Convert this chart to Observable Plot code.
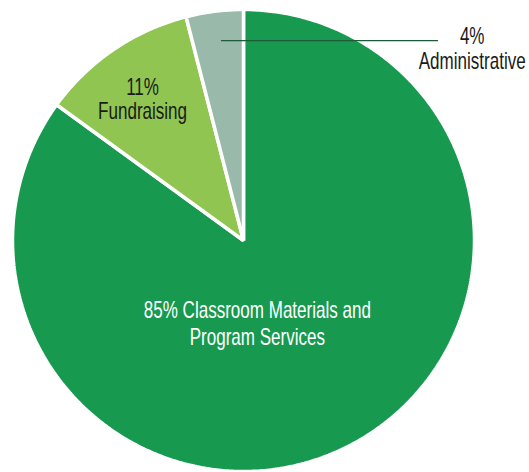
<!DOCTYPE html>
<html>
<head>
<meta charset="utf-8">
<script src="https://cdn.jsdelivr.net/npm/d3@7"></script>
<script src="https://cdn.jsdelivr.net/npm/@observablehq/plot@0.6"></script>
<style>
html,body{margin:0;padding:0;background:#fff;}
#chart svg{display:block;}
</style>
</head>
<body>
<div id="chart"></div>
<script>
const categories = ["Classroom Materials and Program Services", "Fundraising", "Administrative"];
const shares = [85, 11, 4];
const labelLines = [["85% Classroom Materials and", "Program Services"], ["11%", "Fundraising"], ["4%", "Administrative"]];
const colors = ["#17994f", "#8fc550", "#99b9aa"];

const W = 529, H = 472;
const cx = 243, cy = 240, R = 231;

const slices = d3.pie().sort(null).value(d => d.share)(
  categories.map((c, i) => ({category: c, share: shares[i], i}))
);

// polygon points (unit circle) for each slice
const poly = [];
slices.forEach(s => {
  const n = Math.max(8, Math.ceil((s.endAngle - s.startAngle) / 0.01));
  poly.push({i: s.data.i, x: 0, y: 0});
  for (let k = 0; k <= n; k++) {
    const a = s.startAngle + (s.endAngle - s.startAngle) * k / n;
    poly.push({i: s.data.i, x: Math.sin(a), y: Math.cos(a)});
  }
});

const xDom = [-cx / R, (W - cx) / R];
const yDom = [(cy - H) / R, cy / R];

function polar(s, r) {
  const a = (s.startAngle + s.endAngle) / 2;
  return [r * Math.sin(a), r * Math.cos(a)];
}
const mainLab = [{x: 0.06, y: -0.355, text: labelLines[0].join("\n"), fill: "#fff"}];
const sideLab = [
  {x: -0.437, y: 0.612, text: labelLines[1].join("\n"), fill: "#1a1a1a"},
  {x: 0.99, y: 0.83, text: labelLines[2].join("\n"), fill: "#1a1a1a"}
];
const adm = polar(slices[2], 0.6);
const leader = [{x: adm[0] - 0.02, y: 0.865}, {x: 0.84, y: 0.865}];

const chart = Plot.plot({
  width: W, height: H,
  margin: 0,
  x: {domain: xDom, axis: null},
  y: {domain: yDom, axis: null},
  style: {fontFamily: "'Liberation Sans', Arial, sans-serif"},
  marks: [
    Plot.line(poly, {x: "x", y: "y", z: "i", curve: "linear-closed",
      fill: d => colors[d.i], stroke: "#fff", strokeWidth: 3.5, strokeLinejoin: "miter"}),
    Plot.line(leader, {x: "x", y: "y", stroke: "#1d5a37", strokeWidth: 1.2}),
    Plot.text(mainLab, {x: "x", y: "y", text: "text", fill: d => d.fill, textAnchor: "middle",
      fontSize: 24, lineHeight: 1.12, lineAnchor: "middle", className: "condensed"}),
    Plot.text(sideLab, {x: "x", y: "y", text: "text", fill: d => d.fill, textAnchor: "middle",
      fontSize: 24, lineHeight: 1.02, lineAnchor: "middle", className: "condensed"})
  ]
});
// condense the label glyphs horizontally (the reference uses a condensed face)
chart.querySelectorAll(".condensed text").forEach(t => {
  const tr = t.getAttribute("transform") || "";
  t.setAttribute("transform", tr + " scale(0.71,1)");
});
document.getElementById("chart").appendChild(chart);
</script>
</body>
</html>
